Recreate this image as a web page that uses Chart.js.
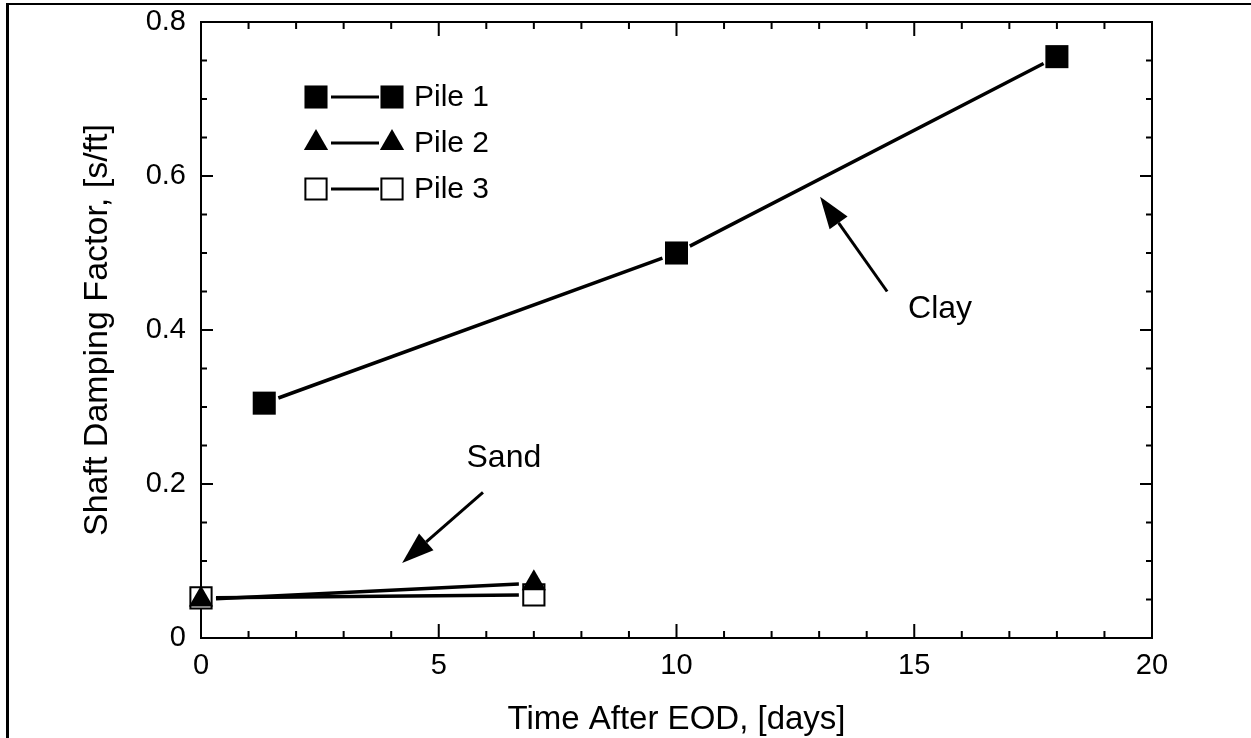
<!DOCTYPE html>
<html>
<head>
<meta charset="utf-8">
<title>Shaft Damping Factor vs Time After EOD</title>
<script src="https://cdn.jsdelivr.net/npm/chart.js@4.4.0/dist/chart.umd.min.js"></script>
<style>
  html, body { margin: 0; padding: 0; background: #fff; }
  #wrap { position: relative; width: 1251px; height: 738px; overflow: hidden; }
  #frame { position: absolute; left: 6px; top: 3px; right: -5px; bottom: -5px;
           border-left: 3px solid #000; border-top: 2px solid #000; }
  #chart { position: absolute; left: 0; top: 0; }
</style>
</head>
<body>
<div id="wrap">
  <div id="frame"></div>
  <canvas id="chart" width="1251" height="738"></canvas>
</div>
<script>
// Data
const pile1Days = [1.33, 10, 18];
const pile1Damping = [0.305, 0.5, 0.755];
const pile2Days = [0, 7];
const pile2Damping = [0.05, 0.071];
const pile3Days = [0, 7];
const pile3Damping = [0.052, 0.056];
const seriesNames = ['Pile 1', 'Pile 2', 'Pile 3'];

// Axes
const xMax = 20, xMajor = 5, xMinor = 1;
const yMax = 0.8, yMajor = 0.2, yMinor = 0.05;

// Arrow notes, in data units
const notes = [
  { text: 'Clay', tail: [14.43, 0.45], tip: [13.02, 0.573], at: [14.87, 0.427], align: 'left' },
  { text: 'Sand', tail: [5.93, 0.189], tip: [4.23, 0.0975], at: [6.37, 0.234], align: 'center' },
];

const FONT = '"Liberation Sans", Arial, Helvetica, sans-serif';
const GAP = 15; // blank space the old plot leaves between line and marker

const toPoints = (xs, ys) => xs.map((x, i) => ({ x, y: ys[i] }));

// shorten every segment by GAP on both ends using a dash pattern
const gapDash = (ctx) => {
  const L = Math.hypot(ctx.p1.x - ctx.p0.x, ctx.p1.y - ctx.p0.y);
  return [0, GAP, Math.max(L - 2 * GAP, 0), L + 10];
};

const frameTicks = {
  id: 'frameTicks',
  beforeDatasetsDraw(chart) {
    const { ctx, chartArea: a, scales: { x, y } } = chart;
    ctx.save();
    ctx.strokeStyle = '#000';
    ctx.lineWidth = 2;
    ctx.strokeRect(a.left, a.top, a.right - a.left, a.bottom - a.top);
    ctx.beginPath();
    const nx = Math.round(xMax / xMinor);
    for (let i = 0; i <= nx; i++) {
      const px = x.getPixelForValue(i * xMinor);
      const len = (i % Math.round(xMajor / xMinor) === 0) ? 14 : 7;
      ctx.moveTo(px, a.bottom); ctx.lineTo(px, a.bottom - len);
      ctx.moveTo(px, a.top); ctx.lineTo(px, a.top + len);
    }
    const ny = Math.round(yMax / yMinor);
    for (let i = 0; i <= ny; i++) {
      const py = y.getPixelForValue(i * yMinor);
      const len = (i % Math.round(yMajor / yMinor) === 0) ? 12 : 6;
      ctx.moveTo(a.left, py); ctx.lineTo(a.left + len, py);
      ctx.moveTo(a.right, py); ctx.lineTo(a.right - len, py);
    }
    ctx.stroke();
    ctx.restore();
  },
  afterDraw(chart) {
    const { ctx, scales: { x, y } } = chart;
    ctx.save();
    // arrows + labels
    notes.forEach((n) => {
      const tx = x.getPixelForValue(n.tail[0]), ty = y.getPixelForValue(n.tail[1]);
      const hx = x.getPixelForValue(n.tip[0]), hy = y.getPixelForValue(n.tip[1]);
      const ang = Math.atan2(hy - ty, hx - tx);
      const headLen = 32, headW = 11;
      const bx = hx - Math.cos(ang) * headLen, by = hy - Math.sin(ang) * headLen;
      ctx.strokeStyle = '#000';
      ctx.fillStyle = '#000';
      ctx.lineWidth = 3;
      ctx.beginPath();
      ctx.moveTo(tx, ty); ctx.lineTo(bx, by);
      ctx.stroke();
      ctx.beginPath();
      ctx.moveTo(hx, hy);
      ctx.lineTo(bx + Math.sin(ang) * headW, by - Math.cos(ang) * headW);
      ctx.lineTo(bx - Math.sin(ang) * headW, by + Math.cos(ang) * headW);
      ctx.closePath();
      ctx.fill();
      ctx.font = `32px ${FONT}`;
      ctx.textAlign = n.align;
      ctx.textBaseline = 'middle';
      ctx.fillText(n.text, x.getPixelForValue(n.at[0]), y.getPixelForValue(n.at[1]));
    });

    // legend: marker — line — marker  label
    const rows = [97, 143, 189];
    chart.data.datasets.forEach((ds, i) => {
      const yy = rows[i];
      const opts = { pointStyle: ds.pointStyle, rotation: 0, radius: ds.pointRadius, borderWidth: ds.pointBorderWidth };
      ctx.strokeStyle = '#000';
      ctx.lineWidth = 3;
      ctx.beginPath();
      ctx.moveTo(331, yy); ctx.lineTo(379, yy);
      ctx.stroke();
      [316, 392].forEach((mx) => {
        ctx.fillStyle = ds.pointBackgroundColor;
        ctx.strokeStyle = ds.pointBorderColor;
        ctx.lineWidth = ds.pointBorderWidth;
        Chart.helpers.drawPoint(ctx, opts, mx, yy);
      });
      ctx.fillStyle = '#000';
      ctx.font = `30px ${FONT}`;
      ctx.textAlign = 'left';
      ctx.textBaseline = 'middle';
      ctx.fillText(ds.label, 414, yy + 1);
    });
    ctx.restore();
  }
};

const common = {
  showLine: true,
  borderColor: '#000',
  borderWidth: 3.5,
  clip: false,
  segment: { borderDash: gapDash },
};

new Chart(document.getElementById('chart'), {
  type: 'scatter',
  data: {
    datasets: [
      { ...common, label: seriesNames[0], data: toPoints(pile1Days, pile1Damping),
        pointStyle: 'rect', pointRadius: 16.3, pointBorderWidth: 0,
        pointBackgroundColor: '#000', pointBorderColor: '#000' },
      { ...common, label: seriesNames[1], data: toPoints(pile2Days, pile2Damping),
        pointStyle: 'triangle', pointRadius: 14, pointBorderWidth: 0,
        pointBackgroundColor: '#000', pointBorderColor: '#000' },
      { ...common, label: seriesNames[2], data: toPoints(pile3Days, pile3Damping),
        pointStyle: 'rect', pointRadius: 15, pointBorderWidth: 2,
        pointBackgroundColor: '#fff', pointBorderColor: '#000' },
    ]
  },
  options: {
    responsive: false,
    animation: false,
    events: [],
    layout: { padding: { left: 0, right: 99, top: 22, bottom: 0 } },
    plugins: { legend: { display: false }, tooltip: { enabled: false } },
    scales: {
      x: {
        type: 'linear', min: 0, max: xMax,
        grid: { display: false, drawTicks: false },
        border: { display: false },
        ticks: { stepSize: xMajor, padding: 11, color: '#000', font: { family: FONT, size: 29 } },
        title: { display: true, text: 'Time After EOD, [days]', color: '#000',
                 font: { family: FONT, size: 33, lineHeight: 1.1 }, padding: { top: 0, bottom: 0 } },
        afterFit: (s) => { s.height = 100; },
      },
      y: {
        type: 'linear', min: 0, max: yMax,
        grid: { display: false, drawTicks: false },
        border: { display: false },
        ticks: { stepSize: yMajor, padding: 15, color: '#000', font: { family: FONT, size: 29 } },
        title: { display: true, text: 'Shaft Damping Factor, [s/ft]', color: '#000',
                 font: { family: FONT, size: 34, lineHeight: 1.2 }, padding: { top: 77, bottom: 0 } },
        afterFit: (s) => { s.width = 201; s.paddingTop = 0; s.paddingBottom = 0; },
      }
    }
  },
  plugins: [frameTicks]
});
</script>
</body>
</html>
